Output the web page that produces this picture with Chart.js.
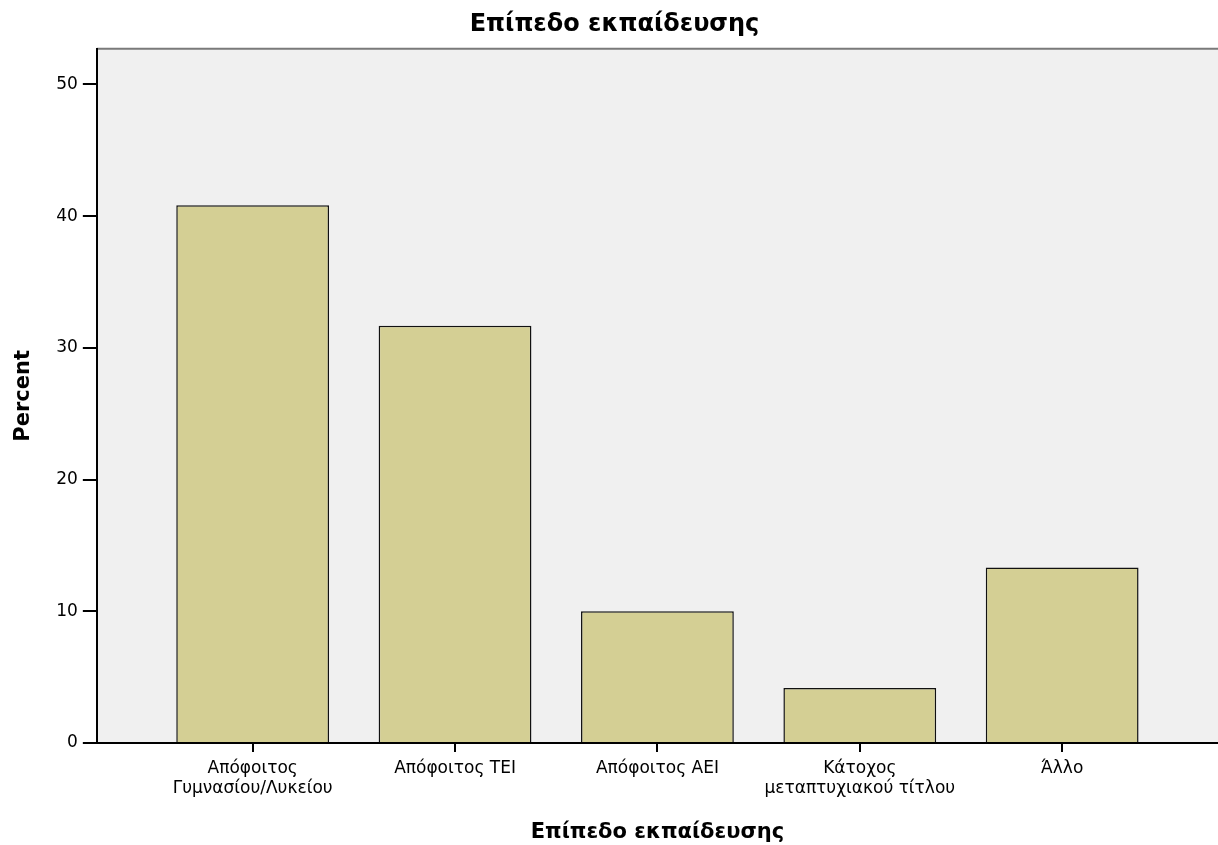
<!DOCTYPE html>
<html>
<head>
<meta charset="utf-8">
<script src="https://cdn.jsdelivr.net/npm/chart.js@4"></script>
<style>
  body { margin: 0; background: #fff; }
  #wrap { width: 1218px; height: 845px; }
</style>
</head>
<body>
<div id="wrap"><canvas id="eduChart" width="1218" height="845"></canvas></div>
<script>
const categories = [
    ['Απόφοιτος', 'Γυμνασίου/Λυκείου'],
    ['Απόφοιτος ΤΕΙ'],
    ['Απόφοιτος ΑΕΙ'],
    ['Κάτοχος', 'μεταπτυχιακού τίτλου'],
    ['Άλλο']
];
const percents = [40.83, 31.67, 10.0, 4.17, 13.33];
const yTicks = [0, 10, 20, 30, 40, 50];

const FONT = '"DejaVu Sans", Verdana, sans-serif';

// plot background + top frame line like SPSS output
const plotBg = {
    id: 'plotBg',
    beforeDraw(chart) {
        const { ctx, chartArea: a } = chart;
        ctx.save();
        ctx.fillStyle = '#f0f0f0';
        ctx.fillRect(a.left, a.top, a.right - a.left, a.bottom - a.top);
        ctx.strokeStyle = '#7a7a7a';
        ctx.lineWidth = 2;
        ctx.beginPath();
        ctx.moveTo(a.left, a.top);
        ctx.lineTo(a.right, a.top);
        ctx.stroke();
        ctx.restore();
    }
};

new Chart(document.getElementById('eduChart'), {
    type: 'bar',
    data: {
        datasets: [{
            label: 'Percent',
            data: percents.map((v, i) => ({ x: i, y: v })),
            backgroundColor: '#d4cf94',
            borderColor: '#111',
            borderWidth: 1.5,
            barPercentage: 0.755,
            categoryPercentage: 1
        }]
    },
    options: {
        responsive: false,
        devicePixelRatio: 1,
        animation: false,
        layout: { padding: { top: 4, right: 0, bottom: 0, left: 11 } },
        plugins: {
            legend: { display: false },
            tooltip: { enabled: false },
            title: {
                display: true,
                text: 'Επίπεδο εκπαίδευσης',
                color: '#000',
                font: { family: FONT, size: 24, weight: 'bold' },
                padding: { top: 6, bottom: 10 }
            }
        },
        scales: {
            x: {
                type: 'linear',
                offset: false,
                min: -0.77,
                max: 4.77,
                grid: { offset: false, drawOnChartArea: false, drawTicks: true, tickLength: 9, color: '#000', lineWidth: 2 },
                border: { display: true, color: '#000', width: 2 },
                ticks: {
                    stepSize: 1,
                    includeBounds: false,
                    autoSkip: false,
                    maxRotation: 0,
                    color: '#000',
                    padding: 6,
                    font: { family: FONT, size: 17, lineHeight: 1.2 },
                    callback: v => categories[v] || ''
                },
                title: {
                    display: true,
                    text: 'Επίπεδο εκπαίδευσης',
                    color: '#000',
                    font: { family: FONT, size: 21, weight: 'bold' },
                    padding: { top: 15, bottom: 0 }
                }
            },
            y: {
                min: 0,
                max: 52.7,
                afterBuildTicks: s => { s.ticks = yTicks.map(v => ({ value: v })); },
                grid: { drawOnChartArea: false, drawTicks: true, tickLength: 14, color: '#000', lineWidth: 2 },
                border: { display: true, color: '#000', width: 2 },
                ticks: {
                    color: '#000',
                    padding: 5,
                    font: { family: FONT, size: 17 }
                },
                title: {
                    display: true,
                    text: 'Percent',
                    color: '#000',
                    font: { family: FONT, size: 21, weight: 'bold' },
                    padding: { top: 0, bottom: 15 }
                }
            }
        }
    },
    plugins: [plotBg]
});
</script>
</body>
</html>
